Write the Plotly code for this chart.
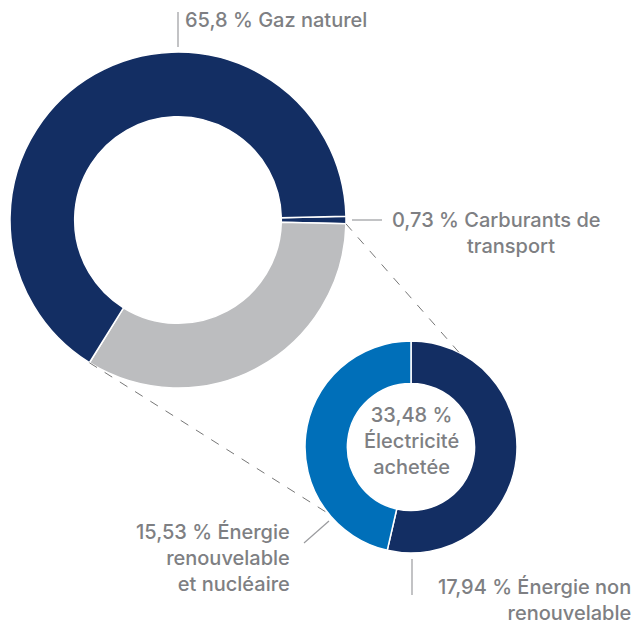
import math
import plotly.graph_objects as go

# data
big_labels = ['Carburants de transport', 'Électricité achetée', 'Gaz naturel']
big_values = [0.73, 33.48, 65.8]
small_labels = ['Énergie non renouvelable', 'Énergie renouvelable et nucléaire']
small_values = [17.94, 15.53]

W, H = 635, 625
navy = '#132e63'
grey = '#bcbdbf'
blue = '#006fb9'
txt = '#7e7f83'
font = 'Inter'

# pie geometry (pixels)
bx, by, br = 178, 220, 168
sx, sy, sr = 411, 447, 106


def px(x):
    return x / W


def py(y):
    return 1 - y / H


def fmt(v):
    return ('%g' % v).replace('.', ',') + ' %'


# start the first slice so carburants sits centred at 3 o'clock
rot = 90 - big_values[0] / sum(big_values) * 360 / 2

fig = go.Figure()
fig.add_trace(go.Pie(
    labels=big_labels, values=big_values, hole=0.615, sort=False,
    direction='clockwise', rotation=rot,
    marker=dict(colors=[navy, grey, navy], line=dict(color='white', width=1.5)),
    textinfo='none', hoverinfo='label+value', showlegend=False,
    domain=dict(x=[px(bx - br), px(bx + br)], y=[py(by + br), py(by - br)]),
))
fig.add_trace(go.Pie(
    labels=small_labels, values=small_values, hole=0.6, sort=False,
    direction='clockwise', rotation=0,
    marker=dict(colors=[navy, blue], line=dict(color='white', width=1.5)),
    textinfo='none', hoverinfo='label+value', showlegend=False,
    domain=dict(x=[px(sx - sr), px(sx + sr)], y=[py(sy + sr), py(sy - sr)]),
))

# dashed connectors from the electricity slice to the small donut
a0 = math.radians(rot + big_values[0] / sum(big_values) * 360)
a1 = a0 + math.radians(big_values[1] / sum(big_values) * 360)
b0 = math.radians(27)
b1 = math.radians(231)
shapes = []
for a, b in [(a0, b0), (a1, b1)]:
    shapes.append(dict(
        type='line', xref='paper', yref='paper',
        x0=px(bx + br * math.sin(a)), y0=py(by - br * math.cos(a)),
        x1=px(sx + sr * math.sin(b)), y1=py(sy - sr * math.cos(b)),
        line=dict(color='#777777', width=1, dash='dash'),
    ))

# leader ticks
lead = [(178, 12, 178, 47), (352, 220, 382, 220), (304, 543, 329, 521), (412, 559, 412, 595)]
for x0, y0, x1, y1 in lead:
    shapes.append(dict(type='line', xref='paper', yref='paper',
                       x0=px(x0), y0=py(y0), x1=px(x1), y1=py(y1),
                       line=dict(color='#9a9b9e', width=1.2)))

annots = [
    (183, 20, 'left', 'left', fmt(big_values[2]) + ' Gaz naturel'),
    (390, 220, 'left', 'left', fmt(big_values[0]) + ' Carburants de'),
    (511, 246, 'center', 'center', 'transport'),
    (292, 558, 'right', 'right', fmt(small_values[1]) + ' Énergie<br>renouvelable<br>et nucléaire'),
    (633, 600, 'right', 'right', fmt(small_values[0]) + ' Énergie non<br>renouvelable'),
    (411, 441, 'center', 'center', fmt(big_values[1]) + '<br>Électricité<br>achetée'),
]
annotations = []
for x, y, xa, al, t in annots:
    annotations.append(dict(
        x=px(x), y=py(y), xref='paper', yref='paper', text=t, showarrow=False,
        xanchor=xa, yanchor='middle', align=al,
        font=dict(family=font, size=20, color=txt, weight=500),
    ))

fig.update_layout(
    width=W, height=H, margin=dict(l=0, r=0, t=0, b=0),
    paper_bgcolor='white', plot_bgcolor='white',
    shapes=shapes, annotations=annotations,
)

fig.write_html('out.html', config={'displayModeBar': False},
               post_script="document.body.style.margin='0';")
